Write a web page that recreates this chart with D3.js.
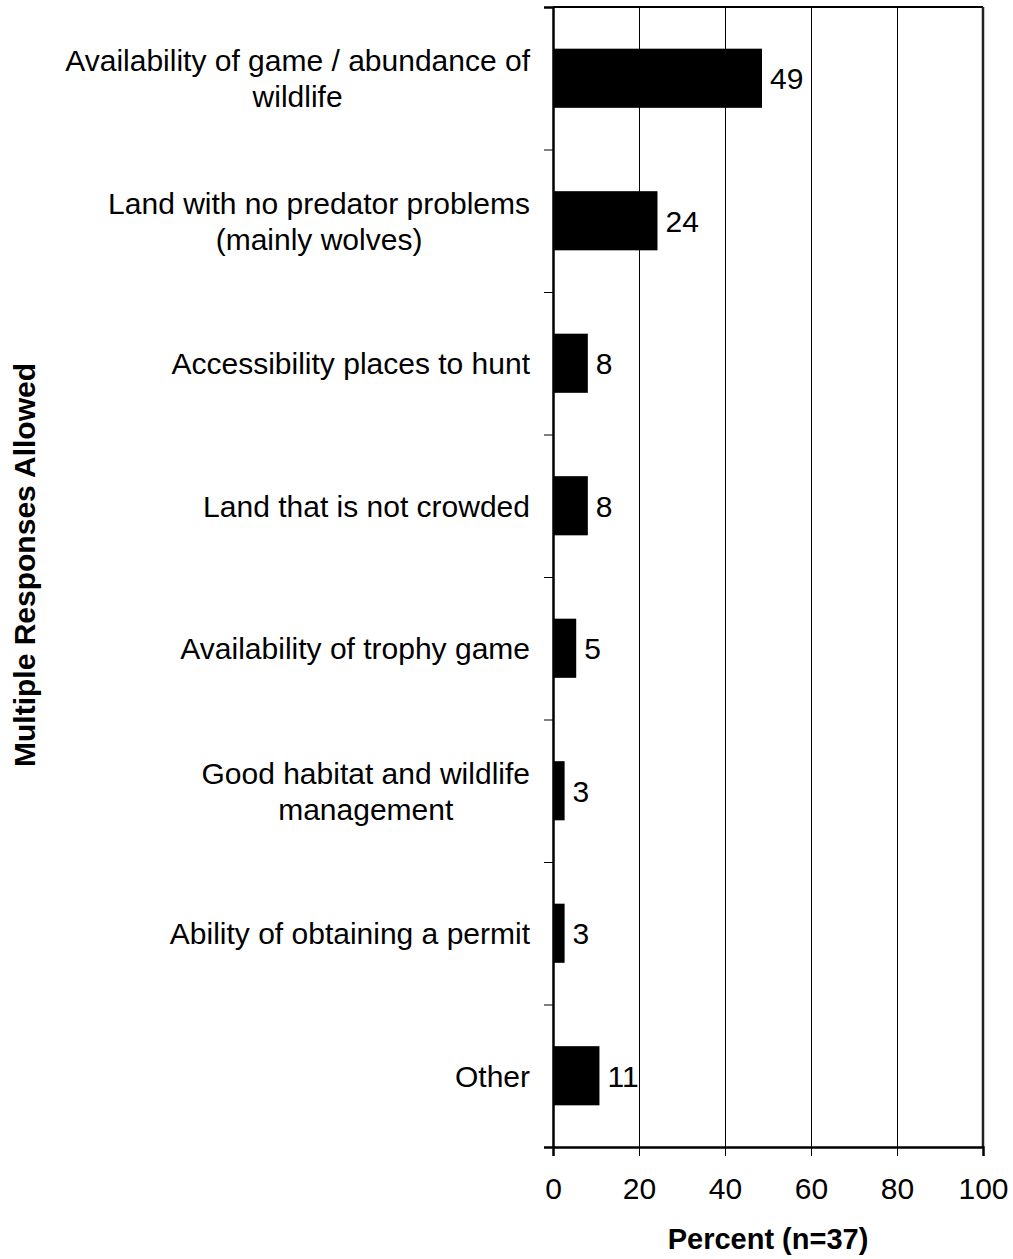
<!DOCTYPE html>
<html><head><meta charset="utf-8">
<script src="https://cdn.jsdelivr.net/npm/d3@7"></script>
<style>body{margin:0;background:#fff}text{font-family:"Liberation Sans",Arial,sans-serif;fill:#000}</style>
</head><body><svg id="c" width="1013" height="1259"></svg>
<script>
const categories = [
  ["Availability of game / abundance of","wildlife"],
  ["Land with no predator problems","(mainly wolves)"],
  ["Accessibility places to hunt"],
  ["Land that is not crowded"],
  ["Availability of trophy game"],
  ["Good habitat and wildlife","management"],
  ["Ability of obtaining a permit"],
  ["Other"]
];
const values = [48.6, 24.3, 8.1, 8.1, 5.4, 2.7, 2.7, 10.8];
const valueLabels = ["49","24","8","8","5","3","3","11"];
const xTicks = [0,20,40,60,80,100];
const xTitle = "Percent (n=37)";
const yTitle = "Multiple Responses Allowed";

const svg = d3.select("#c");
const L=553, R=983, T=7, B=1147, FS=30;
const x = d3.scaleLinear().domain([0,100]).range([L,R]);
const idx = categories.map((d,i)=>i);
const y = d3.scaleBand().domain(idx).range([T,B]).paddingInner(0.585).paddingOuter(0.2925);

// gridlines
svg.append("g").selectAll("line").data(xTicks.filter(t=>t>0&&t<100)).join("line")
  .attr("x1",d=>x(d)+0.5).attr("x2",d=>x(d)+0.5).attr("y1",T).attr("y2",B)
  .attr("stroke","#000").attr("stroke-width",1);

// bars
svg.append("g").selectAll("rect").data(values).join("rect")
  .attr("x",L).attr("y",(d,i)=>y(i)).attr("width",d=>x(d)-L).attr("height",y.bandwidth())
  .attr("fill","#000");

// frame top/right
svg.append("line").attr("x1",L).attr("x2",R).attr("y1",T).attr("y2",T).attr("stroke","#000").attr("stroke-width",2);
svg.append("line").attr("x1",R).attr("x2",R).attr("y1",T).attr("y2",B).attr("stroke","#222").attr("stroke-width",2.5);

// x axis
const xAxis = d3.axisBottom(x).tickValues(xTicks).tickSize(9).tickPadding(22).tickFormat(d3.format("d"));
const gx = svg.append("g").attr("transform",`translate(0,${B})`).call(xAxis);
gx.select(".domain").attr("stroke","#000").attr("stroke-width",2.5);
gx.selectAll(".tick line").attr("stroke","#000").attr("stroke-width",1);
gx.selectAll(".tick text").attr("font-size",FS).attr("font-family","Liberation Sans, Arial, sans-serif").attr("fill","#000");

// y axis ticks at band boundaries
const yBound = d3.scaleLinear().domain([0,categories.length]).range([T,B]);
const gy = svg.append("g").attr("transform",`translate(${L},0)`)
  .call(d3.axisLeft(yBound).tickValues(d3.range(categories.length+1)).tickSize(9).tickFormat(""));
gy.select(".domain").attr("stroke","#000").attr("stroke-width",2.5);
gy.selectAll(".tick line").attr("stroke","#000").attr("stroke-width",1);

// category labels
const lh = 36;
categories.forEach((lines,i)=>{
  const cy = yBound(i+0.5);
  const g = svg.append("g");
  const n = lines.length;
  const texts = lines.map((s,j)=>g.append("text").attr("font-size",FS)
    .attr("y", cy + 11 + (j-(n-1)/2)*lh).text(s));
  const w = d3.max(texts, t=>t.node().getComputedTextLength());
  const cx = 530 - w/2;
  texts.forEach(t=>t.attr("x",cx).attr("text-anchor","middle"));
});

// value labels
svg.append("g").selectAll("text").data(values).join("text")
  .attr("x",d=>x(d)+8).attr("y",(d,i)=>y(i)+y.bandwidth()/2+11)
  .attr("font-size",FS).text((d,i)=>valueLabels[i]);

// titles
svg.append("text").attr("x",(L+R)/2).attr("y",1249).attr("text-anchor","middle")
  .attr("font-size",29).attr("font-weight","bold").text(xTitle);
svg.append("text").attr("transform",`translate(35,565) rotate(-90)`).attr("text-anchor","middle")
  .attr("font-size",30).attr("font-weight","bold").text(yTitle);
</script></body></html>
